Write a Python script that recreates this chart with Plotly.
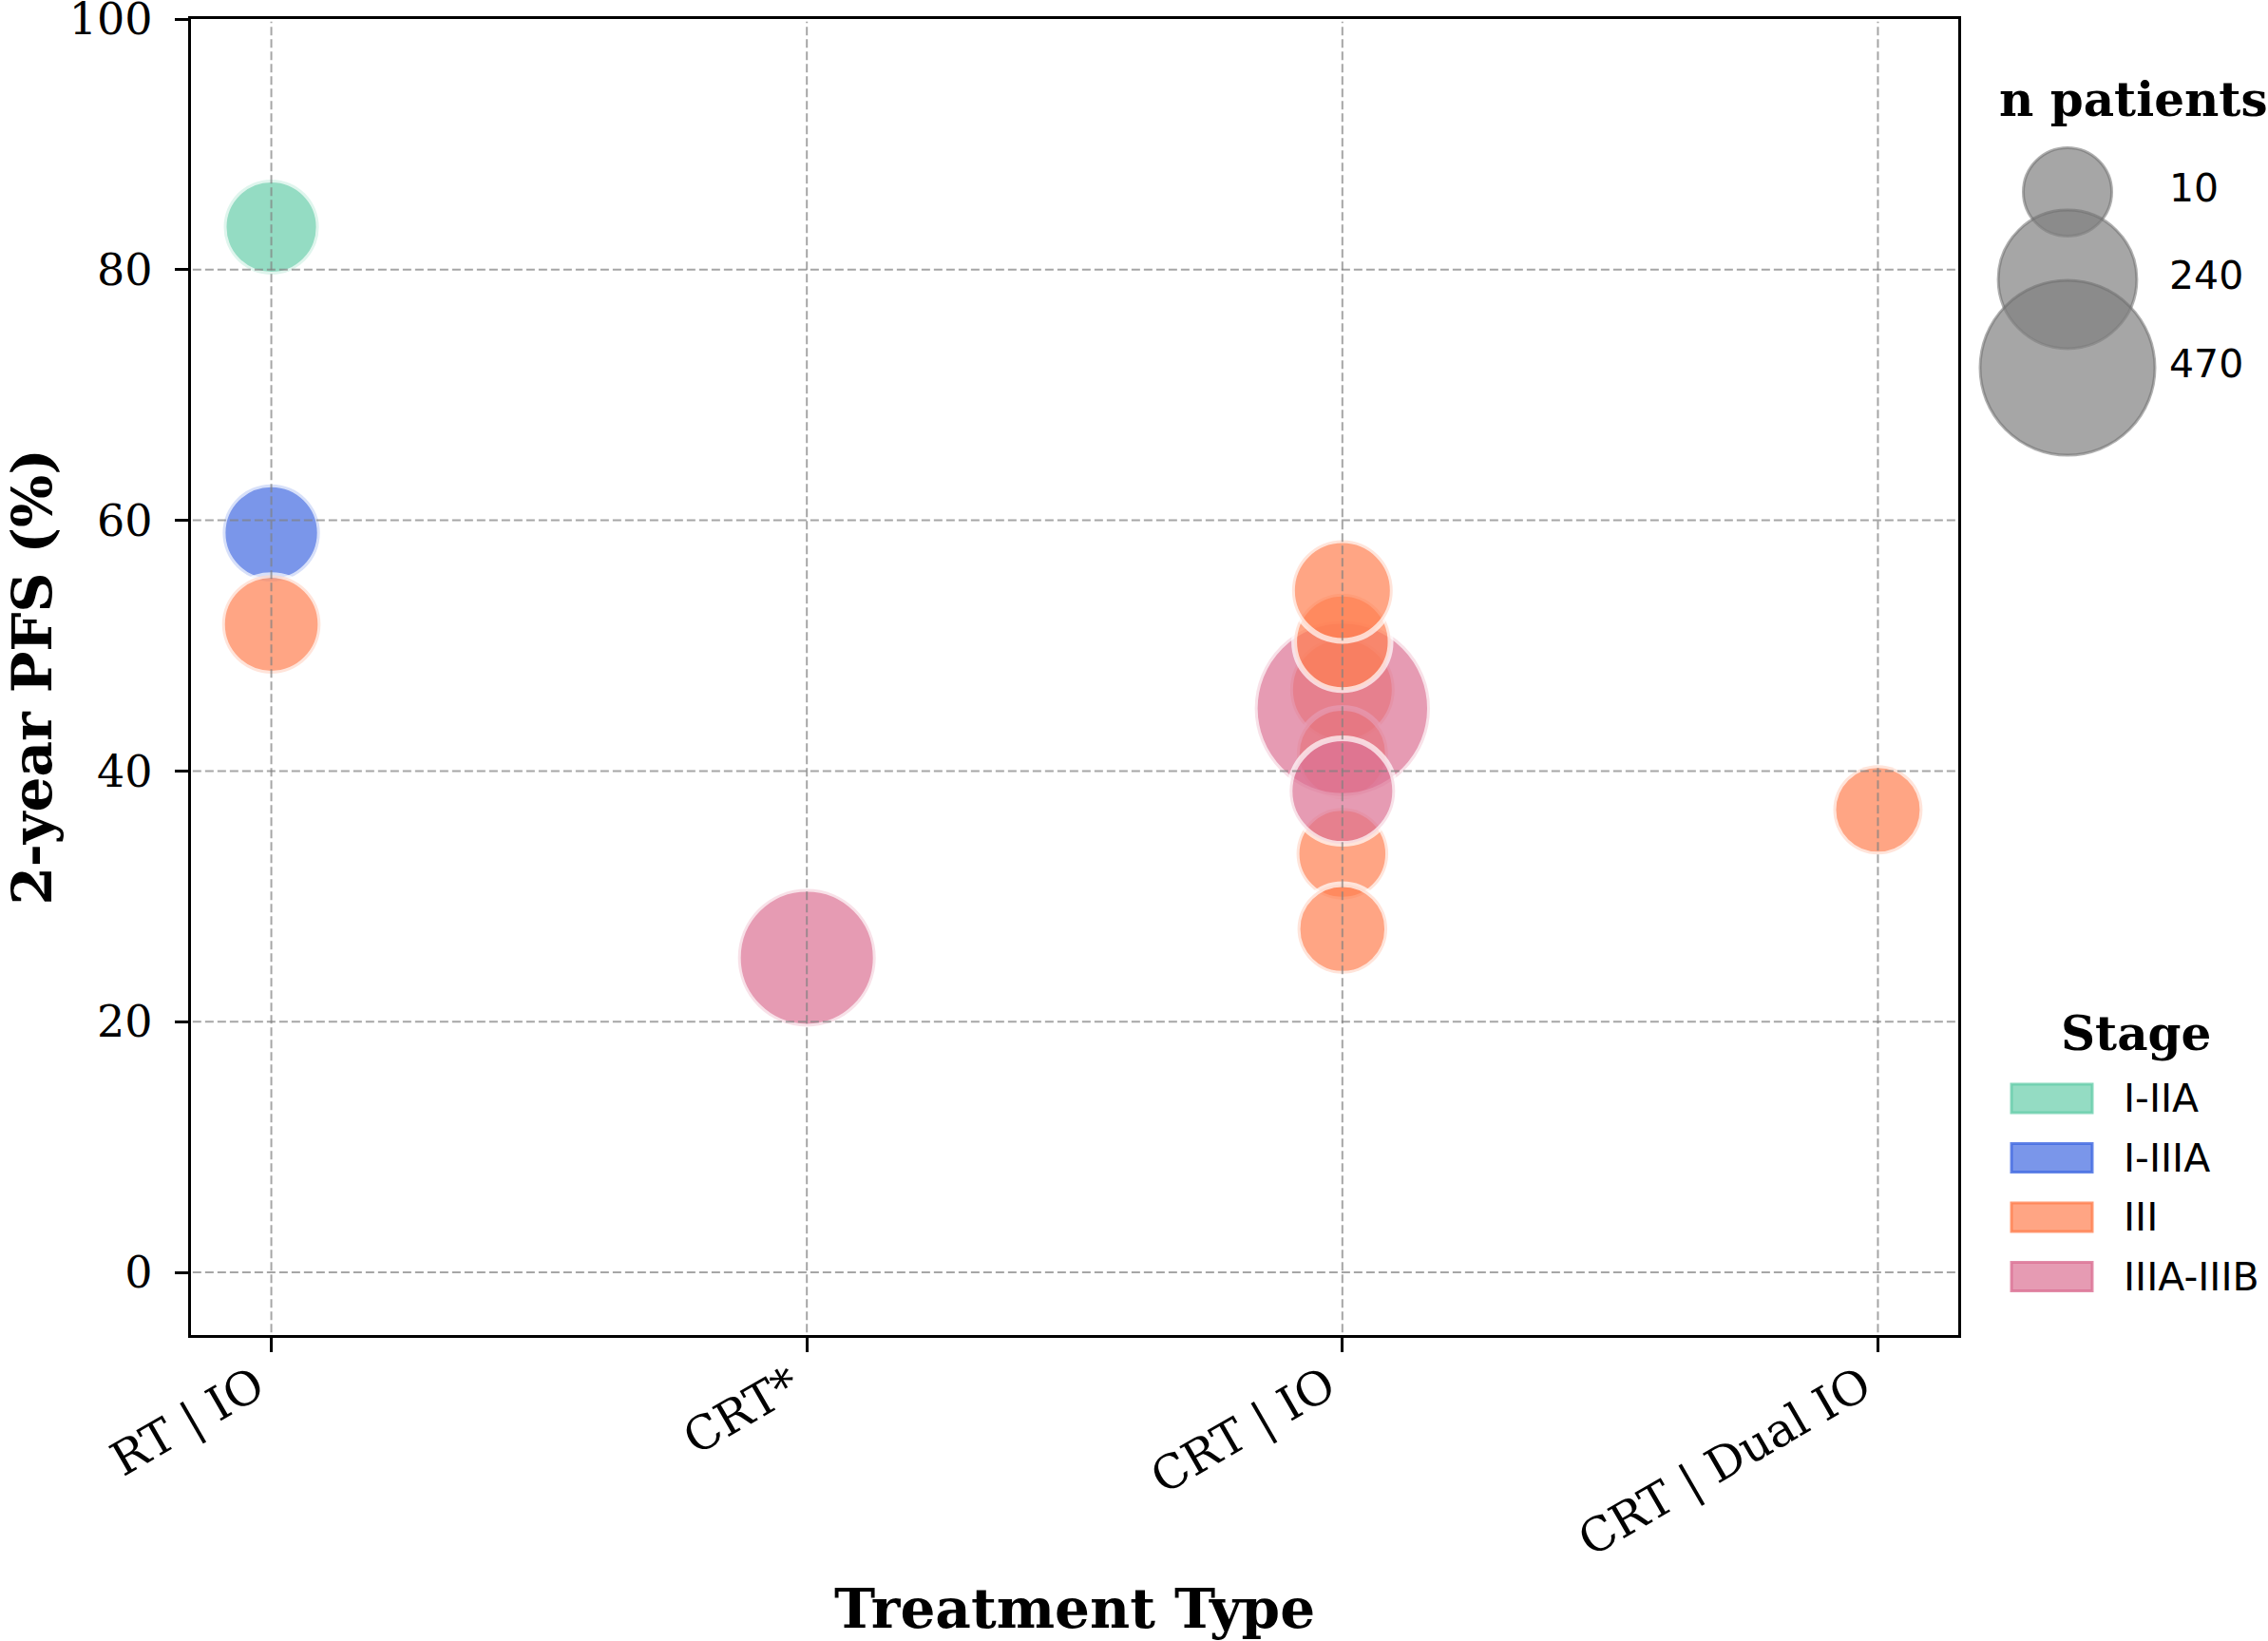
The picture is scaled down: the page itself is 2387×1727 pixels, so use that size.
import math
import plotly.graph_objects as go

# ---------------- data ----------------
categories = ["RT | IO", "CRT*", "CRT | IO", "CRT | Dual IO"]
stages = ["I-IIA", "I-IIIA", "III", "IIIA-IIIB"]
stage_colors = {"I-IIA": (102, 205, 170), "I-IIIA": (65, 105, 225),
                "III": (255, 127, 80), "IIIA-IIIB": (219, 112, 147)}

# points in drawing order
pt_treatment = ["RT | IO", "RT | IO", "RT | IO", "CRT*",
                "CRT | IO", "CRT | IO", "CRT | IO", "CRT | IO",
                "CRT | IO", "CRT | IO", "CRT | IO", "CRT | IO",
                "CRT | Dual IO"]
pt_stage = ["I-IIA", "I-IIIA", "III", "IIIA-IIIB",
            "III", "III", "III", "III",
            "IIIA-IIIB", "IIIA-IIIB", "III", "III",
            "III"]
pt_pfs = [83.4, 59.0, 51.7, 25.1,
          46.5, 41.4, 33.4, 27.4,
          45.0, 38.4, 50.3, 54.4,
          36.9]
pt_n = [35, 43, 48, 236,
        73, 20, 22, 15,
        473, 77, 40, 57,
        13]

size_legend_n = [10, 240, 470]
y_ticks = [0, 20, 40, 60, 80, 100]

# ---------------- styling ----------------
W, H = 2387, 1727
PL, PR, PT, PB = 201, 2061, 20, 1405   # plot area in px
K, C = 3.7, 148.0                      # bubble radius scale


def diam(n):
    return 2 * K * math.sqrt(n + C)


def rgba(c, a):
    return "rgba(%d,%d,%d,%.2f)" % (c[0], c[1], c[2], a)


serif = "DejaVu Serif"
sans = "DejaVu Sans"

fig = go.Figure()

fig.add_trace(go.Scatter(
    x=pt_treatment, y=pt_pfs, mode="markers",
    marker=dict(size=[diam(n) for n in pt_n], sizemode="diameter", opacity=1,
                color=[rgba(stage_colors[s], 0.7) for s in pt_stage],
                line=dict(color="rgba(255,255,255,0.7)", width=6)),
    customdata=list(zip(pt_stage, pt_n)),
    hovertemplate="%{x}<br>Stage %{customdata[0]}<br>n=%{customdata[1]}<br>PFS %{y}%<extra></extra>",
    showlegend=False, xaxis="x", yaxis="y"))

# size legend bubbles (drawn in pixel-space helper axes)
paper_w = W - PL
dom_split = (PR - PL) / paper_w
leg_cx = 2176
leg_y = [202, 294, 387]
fig.add_trace(go.Scatter(
    x=[leg_cx] * len(size_legend_n), y=leg_y, mode="markers",
    marker=dict(size=[diam(n) for n in size_legend_n], sizemode="diameter", opacity=1,
                color="rgba(128,128,128,0.7)",
                line=dict(color="rgba(110,110,110,0.55)", width=3)),
    hoverinfo="skip", showlegend=False, xaxis="x2", yaxis="y2", cliponaxis=False))

annotations = []
shapes = []

annotations.append(dict(x=2245, y=104, xref="x2", yref="y2", text="n patients",
                        showarrow=False, xanchor="center", yanchor="middle",
                        font=dict(family=serif, size=50, color="black", weight="bold")))
for yy, n in zip(leg_y, size_legend_n):
    annotations.append(dict(x=2281, y=yy - 4, xref="x2", yref="y2", text=str(n),
                            showarrow=False, xanchor="left", yanchor="middle",
                            font=dict(family=sans, size=41, color="black")))

# stage legend
annotations.append(dict(x=2248, y=1087, xref="x2", yref="y2", text="Stage",
                        showarrow=False, xanchor="center", yanchor="middle",
                        font=dict(family=serif, size=50, color="black", weight="bold")))
row0, step = 1156, 62.5
for i, s in enumerate(stages):
    yc = row0 + i * step
    c = stage_colors[s]
    shapes.append(dict(type="rect", xref="x2", yref="y2", x0=2117, x1=2202,
                       y0=yc - 15, y1=yc + 15, fillcolor=rgba(c, 0.7),
                       line=dict(color=rgba(c, 0.8), width=3), layer="above"))
    annotations.append(dict(x=2233, y=yc, xref="x2", yref="y2", text=s,
                            showarrow=False, xanchor="left", yanchor="middle",
                            font=dict(family=sans, size=41, color="black")))

# dashed grid above the bubbles (matplotlib-style z-order)
grid_line = dict(color="rgba(128,128,128,0.7)", width=2, dash="9px,4px")
for cat in categories:
    shapes.append(dict(type="line", xref="x", yref="y domain", x0=cat, x1=cat,
                       y0=0.002, y1=0.998, line=grid_line, layer="above"))
for t in y_ticks:
    if t >= 100:
        continue
    shapes.append(dict(type="line", xref="x domain", yref="y", x0=0.001, x1=0.999,
                       y0=t, y1=t, line=grid_line, layer="above"))

fig.update_layout(
    width=W, height=H,
    margin=dict(l=PL, r=0, t=PT, b=H - PB, pad=0),
    paper_bgcolor="white", plot_bgcolor="white",
    showlegend=False,
    annotations=annotations, shapes=shapes,
    xaxis=dict(domain=[0, dom_split], type="category",
               categoryorder="array", categoryarray=categories,
               range=[-0.15, len(categories) - 1 + 0.15],
               showgrid=False, zeroline=False,
               showline=True, linecolor="black", linewidth=3.3, mirror=True,
               ticks="outside", ticklen=15, tickwidth=3, tickcolor="black",
               tickangle=-30, ticklabelstandoff=-12, ticklabelshift=-16,
               ticklabeloverflow="allow",
               tickfont=dict(family=serif, size=49, color="black"),
               title=dict(text="Treatment Type", standoff=34,
                          font=dict(family=serif, size=58, color="black", weight="bold")),
               automargin=False),
    yaxis=dict(domain=[0, 1], range=[-5, 100],
               tickvals=y_ticks, ticktext=[str(t) for t in y_ticks],
               showgrid=False, zeroline=False,
               showline=True, linecolor="black", linewidth=3.3, mirror=True,
               ticks="outside", ticklen=14, tickwidth=3, tickcolor="black",
               ticklabelstandoff=14, ticklabeloverflow="allow",
               tickfont=dict(family=serif, size=46, color="black"),
               title=dict(text="2-year PFS (%)", standoff=28,
                          font=dict(family=serif, size=58, color="black", weight="bold")),
               automargin=False),
    xaxis2=dict(domain=[dom_split, 1], range=[PR, W], visible=False, fixedrange=True),
    yaxis2=dict(domain=[0, 1], range=[PB, PT], visible=False, fixedrange=True,
                anchor="x2"),
)

fig.write_html("out.html", config={"displayModeBar": False},
               post_script="document.body.style.margin='0';document.body.style.overflow='hidden';")
